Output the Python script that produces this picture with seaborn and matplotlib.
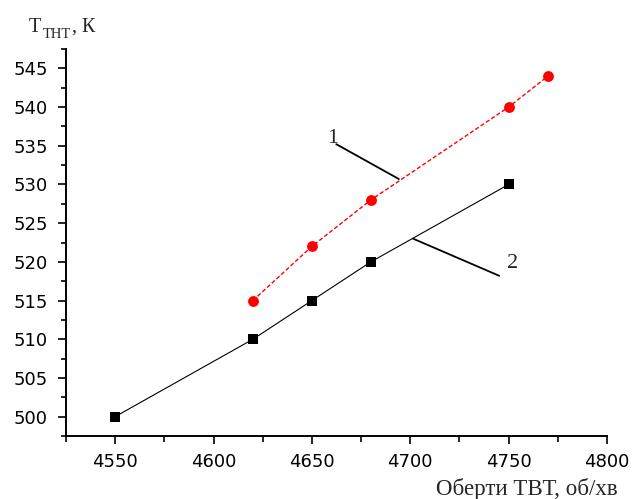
import matplotlib
matplotlib.use("Agg")
import matplotlib.pyplot as plt
from matplotlib.ticker import MultipleLocator
import pandas as pd
import seaborn as sns

# Data
rpm_1 = [4620, 4650, 4680, 4750, 4770]
temp_1 = [515, 522, 528, 540, 544]

rpm_2 = [4550, 4620, 4650, 4680, 4750]
temp_2 = [500, 510, 515, 520, 530]

# curve labels: (label position, leader start, leader end)
label_1 = (4660.3, 535.9)
leader_1 = [(4662.4, 535.2), (4694.2, 530.7)]
label_2 = (4752.0, 519.8)
leader_2 = [(4701.4, 523.0), (4745.2, 518.2)]

sns.set_style("ticks")
plt.rcParams["font.family"] = ["DejaVu Sans"]

fig = plt.figure(figsize=(6.34, 4.99), dpi=100)
ax = fig.add_axes([66 / 634, 1 - 436 / 499, (607 - 66) / 634, (436 - 49) / 499])

df1 = pd.DataFrame({"x": rpm_1, "y": temp_1})
df2 = pd.DataFrame({"x": rpm_2, "y": temp_2})

sns.lineplot(data=df1, x="x", y="y", ax=ax, color="#ff0000", lw=1.0,
             linestyle=(0, (3, 1.6)), marker="o", markersize=7.8,
             markeredgewidth=0, markerfacecolor="#ff0000")
sns.lineplot(data=df2, x="x", y="y", ax=ax, color="black", lw=0.8,
             marker="s", markersize=6.5, markeredgewidth=0,
             markerfacecolor="black")

# leader lines and curve numbers
for lead in (leader_1, leader_2):
    ax.annotate("", xy=lead[1], xytext=lead[0],
                arrowprops=dict(arrowstyle="-", color="black", lw=1.3,
                                shrinkA=0, shrinkB=0))
ax.text(label_1[0], label_1[1], "1", family="Liberation Serif", fontsize=16,
        ha="center", va="center")
ax.text(label_2[0], label_2[1], "2", family="Liberation Serif", fontsize=16,
        ha="center", va="center")

ax.set_xlim(4525, 4800)
ax.set_ylim(497.5, 547.5)
ax.xaxis.set_major_locator(MultipleLocator(50))
ax.xaxis.set_minor_locator(MultipleLocator(25))
ax.yaxis.set_major_locator(MultipleLocator(5))
ax.yaxis.set_minor_locator(MultipleLocator(2.5))

sns.despine(ax=ax)
for side in ("left", "bottom"):
    ax.spines[side].set_linewidth(1.4)
    ax.spines[side].set_color("black")

ax.tick_params(axis="both", which="major", length=6, width=1.2,
               labelsize=13, color="black", labelcolor="black")
ax.tick_params(axis="x", which="major", pad=6)
ax.tick_params(axis="y", which="major", pad=7)
ax.tick_params(axis="x", which="minor", length=4.5, width=1.2, color="black")
ax.tick_params(axis="y", which="minor", length=3.5, width=1.2, color="black")

ax.set_xlabel("")
ax.set_ylabel("")

# axis titles
serif = "Liberation Serif"
fig.text(618 / 634, 4 / 499, "Оберти ТВТ, об/хв", family=serif, fontsize=16.5,
         ha="right", va="baseline")
fig.text(29 / 634, 1 - 32 / 499, "T", family=serif, fontsize=14.5,
         ha="left", va="baseline")
fig.text(43 / 634, 1 - 38.5 / 499, "ТНТ", family=serif, fontsize=10.5,
         ha="left", va="baseline")
fig.text(72 / 634, 1 - 32 / 499, ", К", family=serif, fontsize=14.5,
         ha="left", va="baseline")

fig.savefig("out.png", dpi=100)
